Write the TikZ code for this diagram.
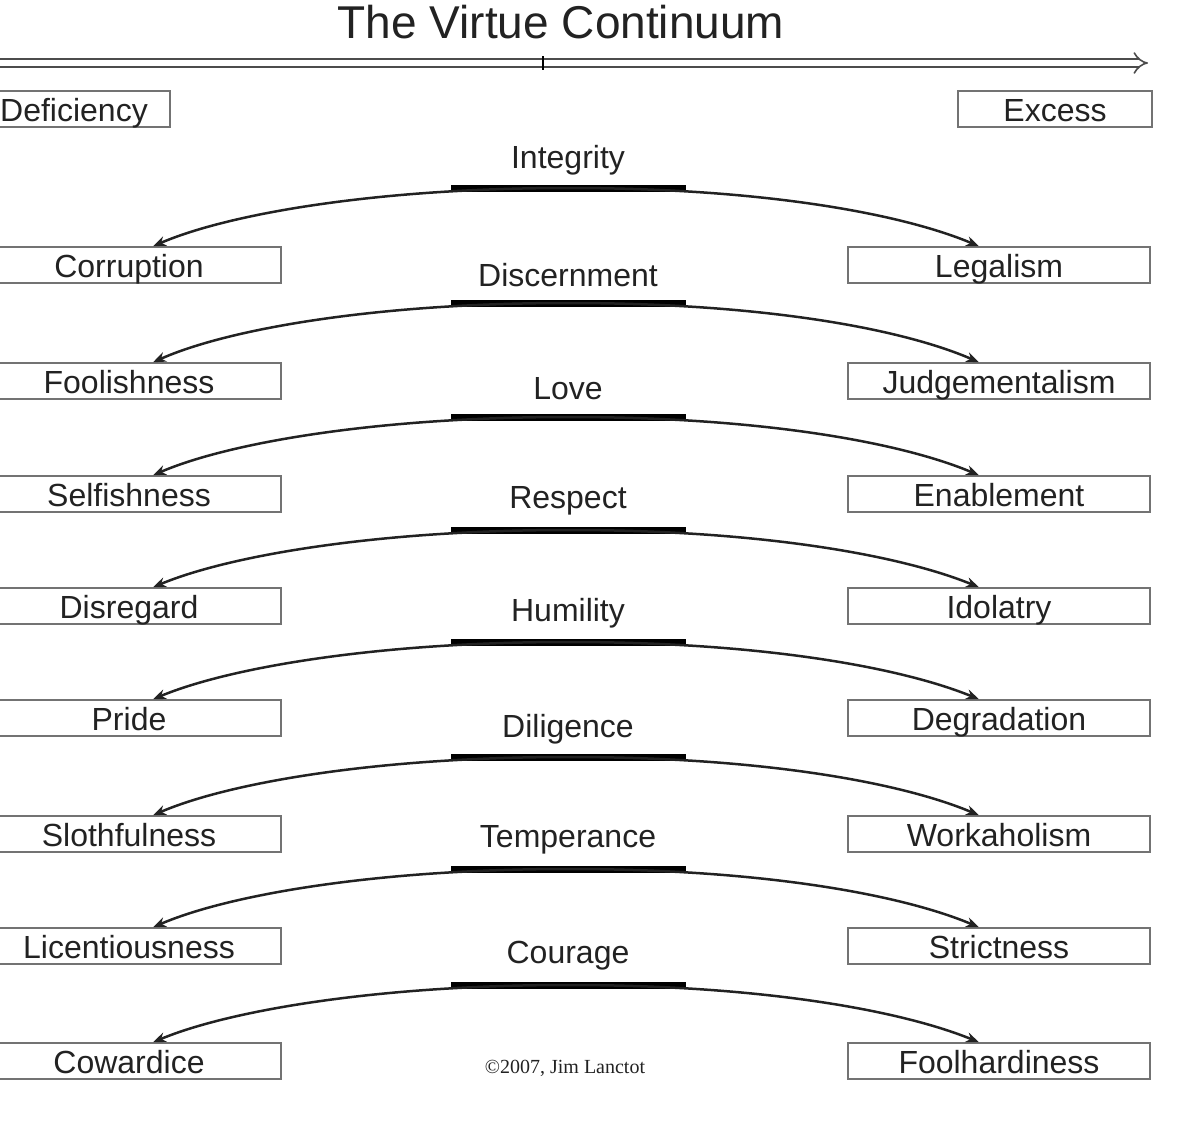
\documentclass[tikz,border=0pt]{standalone}
\usepackage{fontspec}
\setmainfont{Liberation Sans}
\newfontfamily\serifx{Liberation Serif}
\usetikzlibrary{arrows.meta}
\definecolor{ink}{HTML}{222222}
\begin{document}
\begin{tikzpicture}[x=1pt,y=-1pt,
  box/.style={draw=black!55,line width=1.5pt,minimum height=36pt,inner sep=0pt,text height=24pt,text depth=0pt,text=ink,font=\fontsize{32}{36}\selectfont},
  lbox/.style={box,minimum width=284pt},
  rbox/.style={box,minimum width=302pt},
  virt/.style={text=ink,font=\fontsize{32}{36}\selectfont},
  bar/.style={line width=7pt},
  arc/.style={line width=2.5pt,draw=ink,-{Stealth[length=13pt,width=10pt]}}]
\useasboundingbox (0,0) rectangle (1200,1127);
\node[text=ink,font=\fontsize{46}{50}\selectfont] (title) at (561,22) {The Virtue Continuum};
\coordinate (a0) at (-5,63);
\coordinate (a1) at (1148,63);
\draw[line width=1.6pt,draw=black!70,double distance=6pt,-{Implies[length=14pt]}] (a0) -- (a1);
\draw[line width=1.5pt] (543,56) -- (543,70);
\node[box,minimum width=192pt] (def) at (74,109) {Deficiency};
\node[box,minimum width=194pt] (exc) at (1055,109) {Excess};
\foreach \v/\l/\r/\ly/\by/\bxy [count=\i] in {
 Integrity/Corruption/Legalism/160/188/265,
 Discernment/Foolishness/Judgementalism/275/303/381,
 Love/Selfishness/Enablement/389/417/494,
 Respect/Disregard/Idolatry/501/530/606,
 Humility/Pride/Degradation/613/642/718,
 Diligence/Slothfulness/Workaholism/729/757/834,
 Temperance/Licentiousness/Strictness/840/869/946,
 Courage/Cowardice/Foolhardiness/956/985/1061}{
  \node[virt] (v\i) at (568,\ly) {\v};
  \coordinate (bl\i) at (451,\by);
  \coordinate (br\i) at (686,\by);
  \draw[bar] (bl\i) -- (br\i);
  \coordinate (bc\i) at (568,\by);
  \node[lbox] (L\i) at (139,\bxy) {\hspace*{-20pt}\l};
  \node[rbox] (R\i) at (999,\bxy) {\r};
  \draw[arc] (bc\i) .. controls (380,\by) and (230,{\by+25}) .. ([xshift=14pt]L\i.north);
  \draw[arc] (bc\i) .. controls (760,\by) and (900,{\by+25}) .. ([xshift=-20pt]R\i.north);
}
\node[font=\serifx\fontsize{20}{22}\selectfont,text=ink] (copy) at (565,1068) {©2007, Jim Lanctot};
\end{tikzpicture}
\end{document}
